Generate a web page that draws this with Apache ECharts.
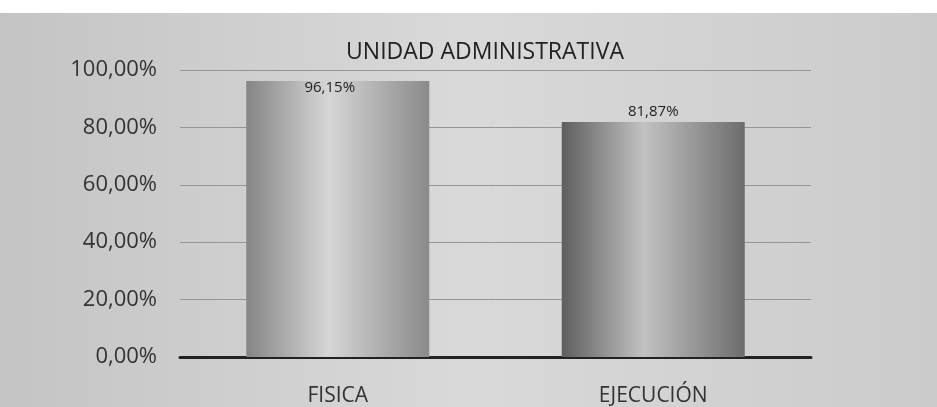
<!DOCTYPE html>
<html>
<head>
<meta charset="utf-8">
<script src="https://cdn.jsdelivr.net/npm/echarts@6/dist/echarts.min.js"></script>
<style>
  html, body { margin: 0; padding: 0; background: #fff; }
  #chart { position: absolute; left: 0; top: 13px; width: 937px; height: 394px; }
</style>
</head>
<body>
<div id="chart"></div>
<script>
const categories = ['FISICA', 'EJECUCIÓN']
const values = [96.15, 81.87]
const yTicks = { min: 0, max: 100, interval: 20 }

function barGradient (edgeL, mid, edgeR) {
  return new echarts.graphic.LinearGradient(0, 0, 1, 0, [
    { offset: 0, color: edgeL },
    { offset: 0.45, color: mid },
    { offset: 1, color: edgeR }
  ])
}

const fills = [
  barGradient('#858585', '#d6d6d6', '#8a8a8a'),
  barGradient('#5e5e5e', '#c2c2c2', '#6c6c6c')
]

// la primera etiqueta va dentro de la barra, la segunda encima
const labelPos = [
  { position: 'insideTop', distance: 0, offset: [-8, -1] },
  { position: 'top', distance: 3, offset: [0, 0] }
]

const chart = echarts.init(document.getElementById('chart'), null, { renderer: 'canvas' })
chart.setOption({
  backgroundColor: new echarts.graphic.LinearGradient(0, 0, 1, 0, [
    { offset: 0, color: '#c4c4c4' },
    { offset: 0.5, color: '#d9d9d9' },
    { offset: 1, color: '#cbcbcb' }
  ]),
  animation: false,
  title: {
    text: 'UNIDAD ADMINISTRATIVA',
    left: 480,
    textAlign: 'center',
    top: 23,
    textStyle: { fontFamily: 'Open Sans', fontSize: 23, fontWeight: 'normal', color: '#222' }
  },
  grid: { left: 180, right: 126, top: 57, bottom: 50 },
  xAxis: {
    type: 'category',
    data: categories,
    axisLine: { lineStyle: { color: '#222', width: 3 } },
    axisTick: { show: false },
    axisLabel: { margin: 29, fontFamily: 'Open Sans', fontSize: 21, color: '#333' }
  },
  yAxis: {
    type: 'value',
    min: yTicks.min,
    max: yTicks.max,
    interval: yTicks.interval,
    axisLine: { show: false },
    axisTick: { show: false },
    splitLine: { lineStyle: { color: '#959595', width: 1 } },
    axisLabel: {
      margin: 23,
      fontFamily: 'Open Sans',
      fontSize: 22,
      color: '#333',
      formatter: v => v.toFixed(2).replace('.', ',') + '%'
    }
  },
  series: [{
    type: 'bar',
    barWidth: '58%',
    data: values.map((v, i) => ({
      value: v,
      itemStyle: { color: fills[i] },
      label: {
        show: true,
        position: labelPos[i].position,
        distance: labelPos[i].distance,
        offset: labelPos[i].offset,
        fontFamily: 'Open Sans',
        fontSize: 15,
        color: '#222',
        formatter: p => p.value.toFixed(2).replace('.', ',') + '%'
      }
    }))
  }]
})
</script>
</body>
</html>
